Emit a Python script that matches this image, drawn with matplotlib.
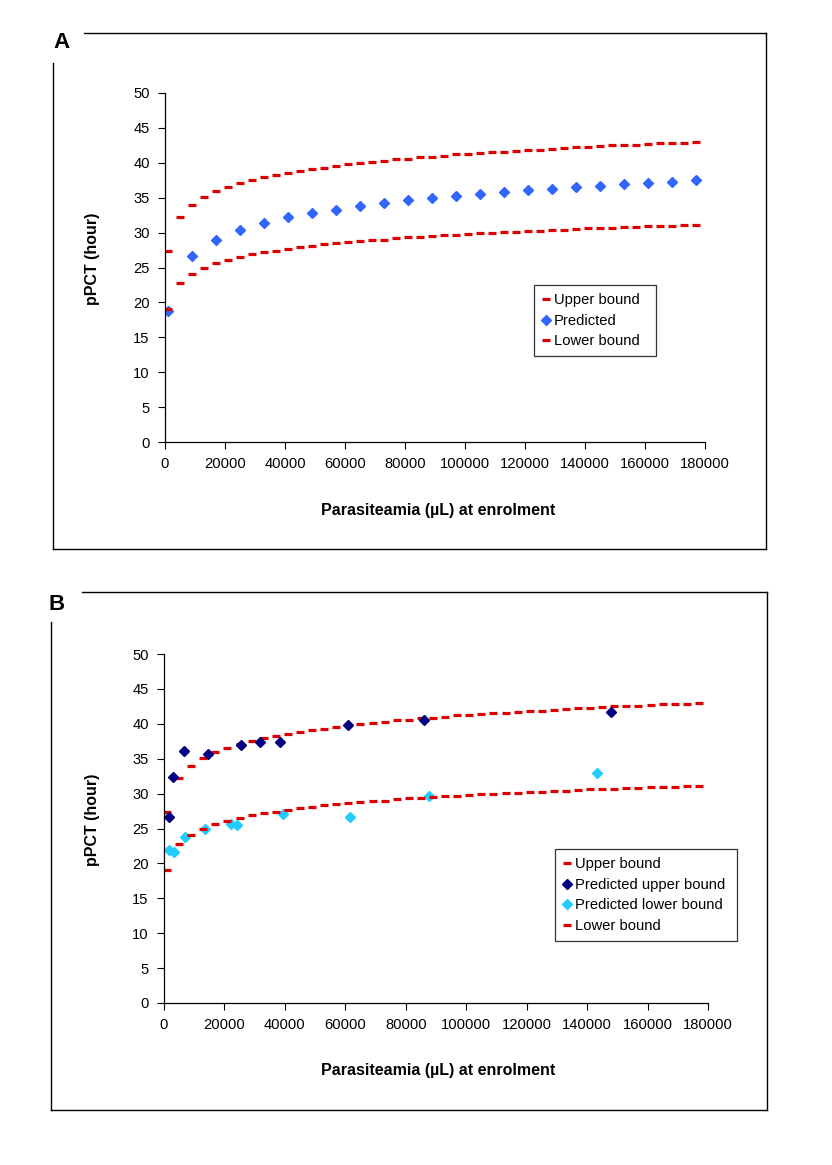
import matplotlib.pyplot as plt
from matplotlib.lines import Line2D

plt.rcParams['font.family'] = ['Liberation Sans', 'DejaVu Sans']

# x grid of the bound dashes (parasitaemia per uL)
bound_x = [1000, 5000, 9000, 13000, 17000, 21000, 25000, 29000, 33000, 37000,
           41000, 45000, 49000, 53000, 57000, 61000, 65000, 69000, 73000, 77000,
           81000, 85000, 89000, 93000, 97000, 101000, 105000, 109000, 113000,
           117000, 121000, 125000, 129000, 133000, 137000, 141000, 145000,
           149000, 153000, 157000, 161000, 165000, 169000, 173000, 177000]
upper = [27.3, 32.2, 34.0, 35.1, 35.9, 36.5, 37.1, 37.5, 37.9, 38.2,
         38.6, 38.8, 39.1, 39.3, 39.6, 39.8, 39.9, 40.1, 40.3, 40.5,
         40.6, 40.8, 40.9, 41.0, 41.2, 41.3, 41.4, 41.5, 41.6,
         41.7, 41.8, 41.9, 42.0, 42.1, 42.2, 42.3, 42.4,
         42.5, 42.5, 42.6, 42.7, 42.8, 42.8, 42.9, 43.0]
lower = [19.0, 22.8, 24.1, 25.0, 25.6, 26.1, 26.5, 26.9, 27.2, 27.4,
         27.7, 27.9, 28.1, 28.3, 28.5, 28.6, 28.8, 28.9, 29.0, 29.2,
         29.3, 29.4, 29.5, 29.6, 29.7, 29.8, 29.9, 30.0, 30.1,
         30.1, 30.2, 30.3, 30.4, 30.4, 30.5, 30.6, 30.6,
         30.7, 30.8, 30.8, 30.9, 30.9, 31.0, 31.1, 31.1]

# panel A: predicted pPCT
pred_x = [1000, 9000, 17000, 25000, 33000, 41000, 49000, 57000, 65000, 73000,
          81000, 89000, 97000, 105000, 113000, 121000, 129000, 137000, 145000,
          153000, 161000, 169000, 177000]
pred_y = [18.8, 26.7, 29.0, 30.4, 31.4, 32.2, 32.8, 33.3, 33.8, 34.2,
          34.6, 35.0, 35.3, 35.6, 35.8, 36.1, 36.3, 36.5, 36.7,
          36.9, 37.1, 37.3, 37.5]

# panel B: individual predicted bounds
pu_x = [1750, 3100, 6700, 14600, 25400, 31600, 38400, 61000, 86000, 148000]
pu_y = [26.6, 32.4, 36.1, 35.7, 37.0, 37.4, 37.4, 39.8, 40.6, 41.7]
pl_x = [1750, 3300, 7000, 13700, 22200, 24000, 39500, 61400, 87800, 143300]
pl_y = [21.9, 21.6, 23.8, 25.0, 25.7, 25.5, 27.1, 26.7, 29.6, 32.9]

RED = '#dd0000'
W, H = 832, 1165

fig = plt.figure(figsize=(W / 100, H / 100), dpi=100)


def fx(px):
    return px / W


def fy(py):
    return 1 - py / H


def frame(x0, y0, x1, y1, letter, lx, ly):
    kw = dict(color='black', lw=1.0, transform=fig.transFigure)
    fig.add_artist(Line2D([fx(x0 + 31), fx(x1)], [fy(y0), fy(y0)], **kw))
    fig.add_artist(Line2D([fx(x1), fx(x1)], [fy(y0), fy(y1)], **kw))
    fig.add_artist(Line2D([fx(x0), fx(x1)], [fy(y1), fy(y1)], **kw))
    fig.add_artist(Line2D([fx(x0), fx(x0)], [fy(y1), fy(y0 + 30)], **kw))
    fig.text(fx(lx), fy(ly), letter, fontsize=16, fontweight='bold',
             ha='center', va='center')


def style_axes(ax):
    ax.set_xlim(0, 180000)
    ax.set_ylim(0, 50)
    ax.set_xticks(range(0, 180001, 20000))
    ax.set_yticks(range(0, 51, 5))
    ax.tick_params(direction='out', length=5, width=0.8, labelsize=10.6,
                   pad=6, colors='black')
    for s in ['top', 'right']:
        ax.spines[s].set_visible(False)
    for s in ['left', 'bottom']:
        ax.spines[s].set_linewidth(0.9)


def legend(ax, px, py):
    leg = ax.legend(loc='upper left', bbox_to_anchor=(fx(px), fy(py)),
                    bbox_transform=fig.transFigure, fontsize=10.6,
                    frameon=True, fancybox=False, edgecolor='black',
                    handlelength=0.55, handletextpad=0.25, borderpad=0.55,
                    labelspacing=0.45, borderaxespad=0)
    leg.get_frame().set_linewidth(0.9)
    return leg


dash = dict(ls='none', marker='_', ms=6.3, mew=2.3, color=RED)
lab = dict(fontsize=11.5, fontweight='bold', ha='center', va='center')

# ---------- panel A ----------
frame(53, 33, 766, 549, 'A', 61, 43)
axA = fig.add_axes([fx(165), fy(442), fx(705) - fx(165), fy(93) - fy(442)])
axA.patch.set_alpha(0)
style_axes(axA)
axA.plot(bound_x, upper, label='Upper bound  ', **dash)
axA.plot(pred_x, pred_y, ls='none', marker='D', ms=5.2, color='#3366ff',
         mec='#3366ff', label='Predicted')
axA.plot(bound_x, lower, label='Lower bound', **dash)
fig.text(fx(92), fy(259), 'pPCT (hour)', rotation=90, **lab)
fig.text(fx(438), fy(511), 'Parasiteamia (\u00b5L) at enrolment', **lab)
legend(axA, 534, 285)

# ---------- panel B ----------
frame(51, 592, 767, 1110, 'B', 57, 604)
axB = fig.add_axes([fx(164), fy(1003), fx(708) - fx(164), fy(654) - fy(1003)])
axB.patch.set_alpha(0)
style_axes(axB)
axB.plot(bound_x, upper, label='Upper bound', **dash)
axB.plot(pu_x, pu_y, ls='none', marker='D', ms=5.2, color='#000080',
         mec='#000080', label='Predicted upper bound ')
axB.plot(pl_x, pl_y, ls='none', marker='D', ms=5.2, color='#22ccff',
         mec='#22ccff', label='Predicted lower bound')
axB.plot(bound_x, lower, label='Lower bound', **dash)
fig.text(fx(92), fy(820), 'pPCT (hour)', rotation=90, **lab)
fig.text(fx(438), fy(1071), 'Parasiteamia (\u00b5L) at enrolment', **lab)
legend(axB, 555, 849)

fig.savefig('out.png', dpi=100, facecolor='white')
